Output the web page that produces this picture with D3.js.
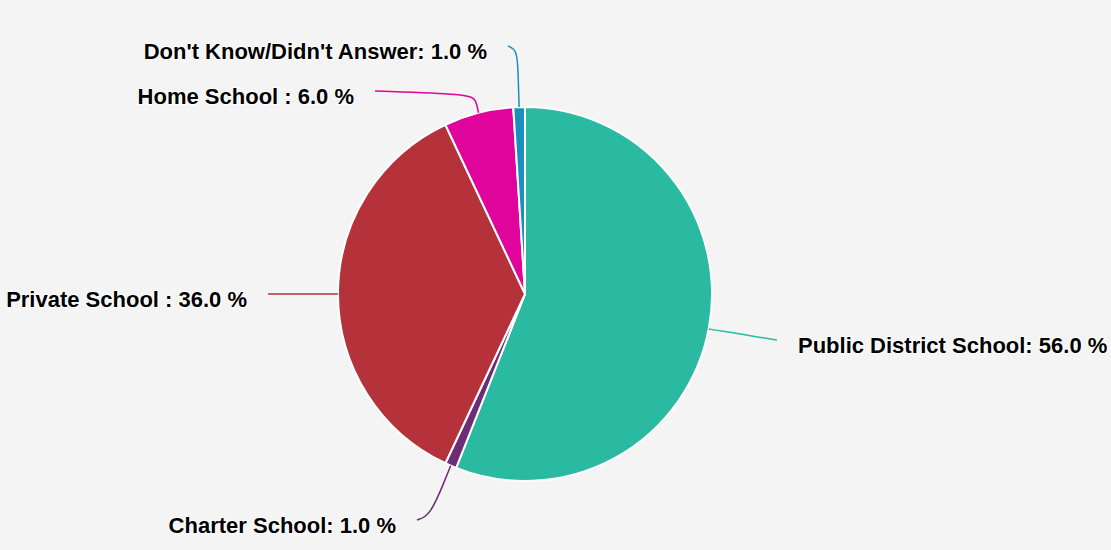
<!DOCTYPE html>
<html>
<head>
<meta charset="utf-8">
<script src="https://cdn.jsdelivr.net/npm/d3@7"></script>
<style>
  html, body { margin: 0; padding: 0; background: #f4f4f4; }
  svg { display: block; }
  .lbl { font-family: "Liberation Sans", Arial, sans-serif; font-weight: bold; font-size: 22px; fill: #000;
         stroke: #fff; stroke-width: 2px; stroke-linejoin: round; paint-order: stroke; }
</style>
</head>
<body>
<div id="chart"></div>
<script>
var categories = ["Public District School", "Charter School", "Private School", "Home School", "Don't Know/Didn't Answer"];
var values = [56.0, 1.0, 36.0, 6.0, 1.0];
var sep = [":", ":", " :", " :", ":"];   // label text as it appears
var colors = ["#2ab9a1", "#6e2c77", "#b5323a", "#e0049c", "#1a8fbf"];

// connector layout: end of connector (near label) and knee points, relative to pie centre
var labelLayout = [
  {end: [252, 46],  knees: [[230, 42.5], [206, 38.5]], side: "right"},
  {end: [-108, 226], knees: [[-95, 222], [-80, 186]], side: "left"},
  {end: [-257, 0],  knees: [[-220, 0], [-200, 0]], side: "left"},
  {end: [-150, -203], knees: [[-55, -200], [-49, -194]], side: "left"},
  {end: [-17, -248], knees: [[-8, -244], [-7, -224]], side: "left"}
];

var width = 1111, height = 550;
var cx = 525, cy = 294, radius = 187;

var svg = d3.select("#chart").append("svg")
            .attr("width", width)
            .attr("height", height);

svg.append("rect").attr("width", width).attr("height", height).attr("fill", "#f4f4f4");

var pie = d3.pie().sort(null).value(function(d) { return d; });
var arcs = pie(values);
var arc = d3.arc().innerRadius(0).outerRadius(radius);

var g = svg.append("g").attr("transform", "translate(" + cx + "," + cy + ")");

g.selectAll("path.slice")
  .data(arcs)
  .enter().append("path")
  .attr("class", "slice")
  .attr("d", arc)
  .attr("fill", function(d, i) { return colors[i]; })
  .attr("stroke", "#fff")
  .attr("stroke-width", 2)
  .attr("stroke-linejoin", "round");

var line = d3.line().curve(d3.curveBasis);

g.selectAll("path.conn")
  .data(arcs)
  .enter().append("path")
  .attr("class", "conn")
  .attr("fill", "none")
  .attr("stroke", function(d, i) { return colors[i]; })
  .attr("stroke-width", 1.5)
  .attr("d", function(d, i) {
    var mid = (d.startAngle + d.endAngle) / 2;
    var p = [radius * Math.sin(mid), -radius * Math.cos(mid)];
    var L = labelLayout[i];
    return line([L.end].concat(L.knees).concat([p]));
  });

g.selectAll("text.lbl")
  .data(arcs)
  .enter().append("text")
  .attr("class", "lbl")
  .attr("x", function(d, i) {
    var L = labelLayout[i];
    return L.side === "right" ? L.end[0] + 21 : L.end[0] - 21;
  })
  .attr("y", function(d, i) { return labelLayout[i].end[1] + 12.5; })
  .attr("text-anchor", function(d, i) { return labelLayout[i].side === "right" ? "start" : "end"; })
  .text(function(d, i) { return categories[i] + sep[i] + " " + values[i].toFixed(1) + " %"; });
</script>
</body>
</html>
